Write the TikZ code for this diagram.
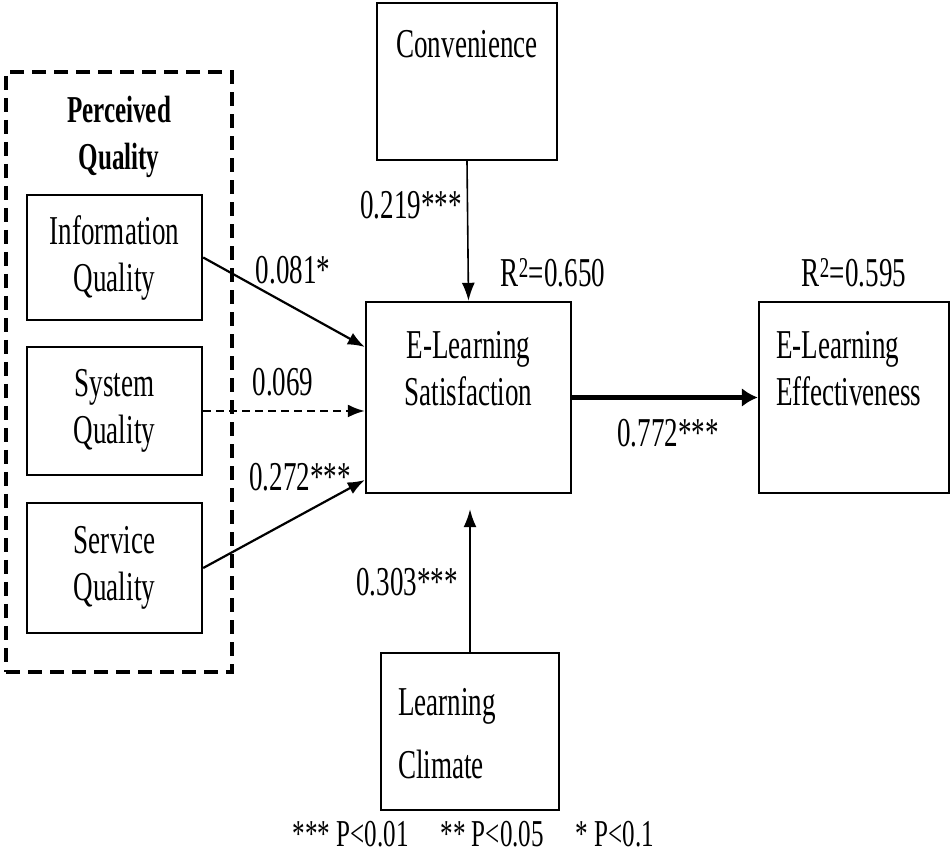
\documentclass[tikz,border=0pt]{standalone}
\usepackage{fontspec}
\setmainfont{Liberation Serif}[FakeStretch=0.66]
\usepackage{tikz}
\usetikzlibrary{arrows.meta,positioning}

\begin{document}
\begin{tikzpicture}
[x=1pt,y=1pt,
	 box/.style={draw,line width=2.4pt,inner sep=0pt},
	 txt/.style={align=center,inner sep=3pt,font=\fontsize{41}{47}\selectfont},
	 coef/.style={inner sep=2pt,font=\fontsize{41}{47}\selectfont},
	 patharrow/.style={-{Latex[length=17pt,width=13pt]},line width=2.2pt},
	 thinarrow/.style={-{Latex[length=18pt,width=13pt]},line width=1.6pt},
	 grouprect/.style={draw,line width=4pt,dash pattern=on 14pt off 8pt,inner sep=0pt}];
\useasboundingbox (0,0) rectangle (952,856);

% perceived quality block
\node[grouprect,minimum width=226pt,minimum height=600pt] (perceived) at (119,484) {};
\node[txt,font=\fontsize{38}{47}\selectfont\bfseries] (perceivedtext) at (119,719.5) {Perceived\\Quality};
\node[box,txt,minimum width=175pt,minimum height=125pt] (infoquality) at (114.5,598.5) {Information\\Quality};
\node[box,txt,minimum width=175pt,minimum height=128pt] (systemquality) at (114.5,445) {System\\Quality};
\node[box,txt,minimum width=175pt,minimum height=130pt] (servicequality) at (114.5,288) {Service\\Quality};

% other constructs
\node[box,minimum width=180pt,minimum height=157pt] (convenience) at (467,774.5) {};
\node[txt] (conveniencetext) at ([yshift=-42pt]convenience.north) {Convenience};
\node[box,minimum width=205pt,minimum height=191pt] (satisfaction) at (468.5,458.5) {};
\node[txt] (satisfactiontext) at ([yshift=29pt]satisfaction) {E-Learning\\Satisfaction};
\node[box,minimum width=190pt,minimum height=191pt] (effectiveness) at (854,458.5) {};
\node[txt,align=left,anchor=west] (effectivenesstext) at ([xshift=15pt,yshift=29pt]effectiveness.west) {E-Learning\\Effectiveness};
\node[box,minimum width=178pt,minimum height=157pt] (climate) at (470,124.5) {};
\node[txt,align=left,anchor=west,font=\fontsize{41}{63}\selectfont] (climatetext) at ([xshift=15pt,yshift=-2pt]climate.west) {Learning\\Climate};

\node[coef] (rsat) at (553,583) {R\textsuperscript{2}=0.650};
\node[coef] (reff) at (854,583) {R\textsuperscript{2}=0.595};

% paths
\draw[patharrow] (infoquality.east) -- ([yshift=50.5pt]satisfaction.west);
\draw[patharrow,dash pattern=on 8pt off 5pt] (systemquality.east) -- (systemquality.east -| satisfaction.west);
\draw[patharrow] (servicequality.east) -- ([yshift=-82.5pt]satisfaction.west);
\draw[thinarrow] (convenience.south) -- (satisfaction.north);
\draw[thinarrow,line width=1.8pt] (climate.north) -- ([yshift=-15pt]climate.north |- satisfaction.south);
\draw[-{Latex[length=16pt,width=19pt]},line width=4.5pt] (satisfaction.east) -- (effectiveness.west);

\node[coef] (coefinfo) at (293,586) {0.081*};
\node[coef] (coefsystem) at (283,474) {0.069};
\node[coef] (coefservice) at (300,379) {0.272***};
\node[coef] (coefconv) at (411,651) {0.219***};
\node[coef] (coefclimate) at (407,274) {0.303***};
\node[coef] (coefsat) at (668,423) {0.772***};

\node[coef,font=\fontsize{38}{44}\selectfont] (legend) at (473.5,22) {*** P<0.01\hspace{32pt}** P<0.05\hspace{32pt}* P<0.1};

\end{tikzpicture}
\end{document}
